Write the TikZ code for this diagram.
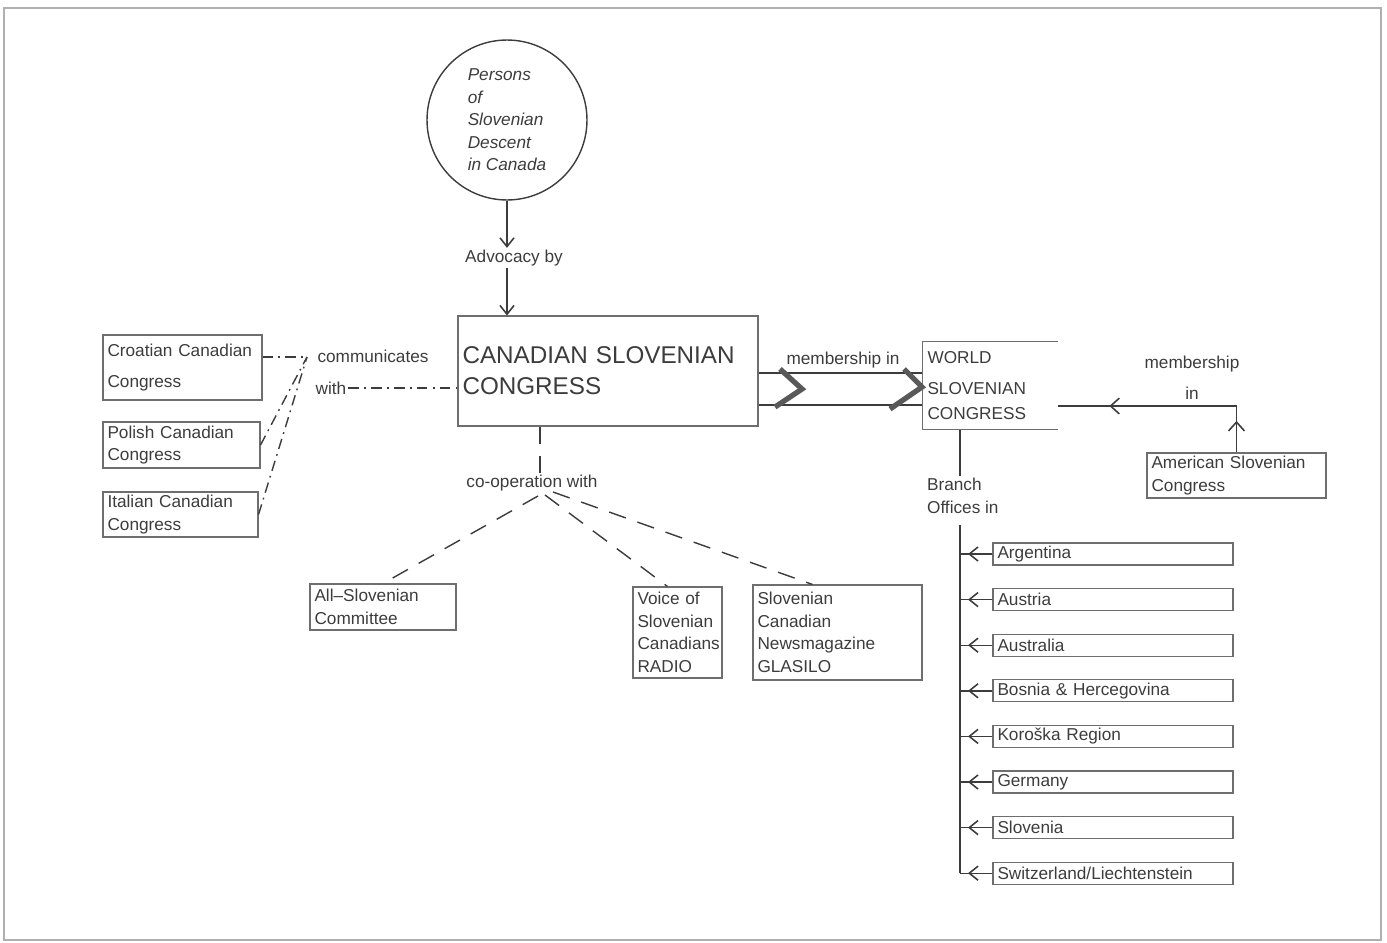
\documentclass[tikz,border=0pt]{standalone}
\usepackage{fontspec}
\setmainfont{Liberation Sans}
\usetikzlibrary{arrows.meta,calc,decorations.markings}
\definecolor{inkgray}{HTML}{3C3C3C}
\definecolor{boxgray}{HTML}{6E6E6E}
\definecolor{framegray}{HTML}{B0B0B0}
\newcommand{\smallfont}{\fontsize{9.8}{12.8}\selectfont}
\newcommand{\bigfont}{\fontsize{13.8}{17.6}\selectfont}
\tikzset{
  orgbox/.style={draw=boxgray, line width=0.6pt, inner sep=0pt, align=left, font=\smallfont, text=inkgray},
  boxsize/.style 2 args={/utils/exec={%
      \pgfmathsetlengthmacro\boxw{#1*0.02cm}%
      \pgfmathsetlengthmacro\boxh{#2*0.02cm}%
      \pgfmathsetlengthmacro\boxtw{(#1-9)*0.02cm}},
    minimum width=\boxw, minimum height=\boxh, text width=\boxtw},
  lbl/.style={font=\smallfont, text=inkgray, inner sep=1pt},
  link/.style={draw=inkgray, line width=0.8pt},
  barb/.style={link, -{Straight Barb[length=5pt,width=8pt,line width=0.9pt]}},
  dashlink/.style={link, dash pattern=on 10pt off 7pt},
  dotlink/.style={link, dash pattern=on 6pt off 3pt on 1pt off 3pt},
  chevron/.style={draw=black!65, line width=3pt},
}
\begin{document}
\begin{tikzpicture}[x=0.02cm, y=-0.02cm]
  \useasboundingbox (0,0) rectangle (1387,943);
  \draw[framegray, line width=0.6pt] (4,8) rectangle (1381,940);

  % Source circle
  \node[circle, draw=inkgray, line width=0.8pt, minimum size=3.2cm, inner sep=0pt,
        align=left, font=\smallfont\itshape, text=inkgray] (desc) at (507,120)
       {Persons\\of\\Slovenian\\Descent\\in Canada};
  \node[lbl] (adv) at (514,258) {Advocacy by};

  % Central box
  \node[orgbox, boxsize={300}{110}, font=\bigfont] (csc) at (608,371)
       {CANADIAN SLOVENIAN\\CONGRESS};
  \draw[barb] (desc.south) -- (desc.south |- adv.north);
  \draw[barb] (desc.south |- adv.south) -- (desc.south |- csc.north);

  % World congress
  \node[orgbox, draw=none, boxsize={134}{87}] (wsc) at (990,385.5)
       {WORLD\\[5.3pt]SLOVENIAN\\[1.4pt]CONGRESS};
  \draw[boxgray, line width=0.6pt] (wsc.north east) -- (wsc.north west)
       -- (wsc.south west) -- (wsc.south east);
  \coordinate (memtop) at (840,373);
  \coordinate (membot) at (840,405);
  \draw[link] (csc.east |- memtop) -- (wsc.west |- memtop);
  \draw[link] (csc.east |- membot) -- (wsc.west |- membot);
  \draw[chevron] (780,369) -- (802,389) -- (775,407);
  \draw[chevron] (904,369) -- (922,387) -- (890,409);
  \node[lbl] (memlbl) at (843,360) {membership in};

  % American congress
  \node[orgbox, boxsize={179}{45}] (asc) at (1236.5,475.5)
       {American Slovenian\\Congress};
  \coordinate (memline) at (1150,406);
  \draw[link, postaction={decorate}, decoration={markings,
        mark=at position 0.14 with {\arrow{Straight Barb[length=5pt,width=9pt,line width=0.9pt]}},
        mark=at position 0.77 with {\arrow{Straight Barb[length=5pt,width=9pt,line width=0.9pt]}}}]
       (asc.north) -- (asc.north |- memline) -- (wsc.east |- memline);
  \node[lbl, align=center] (memlbl2) at (1192,378) {membership\\[5pt]in};

  % Canadian congresses
  \node[orgbox, boxsize={159}{65}] (cro) at (182.5,367.5) {Croatian Canadian\\[5.3pt]Congress};
  \node[orgbox, boxsize={157}{46}] (pol) at (181.5,445) {Polish Canadian\\Congress};
  \node[orgbox, boxsize={155}{45}] (ita) at (180.5,514.5) {Italian Canadian\\Congress};
  \node[lbl] (comm) at (373,356) {communicates};
  \node[lbl] (with) at (331,388) {with};
  \coordinate (hook) at (307,357);
  \draw[dotlink] (cro.east |- hook) -- (hook);
  \draw[dotlink] (pol.east) -- (hook);
  \draw[dotlink] (ita.east) -- (hook);
  \draw[dotlink] (with.east) -- (csc.west |- with.east);

  % Co-operation
  \node[lbl] (coop) at (532,483) {co-operation with};
  \coordinate (coline) at (540,450);
  \coordinate (cohub) at (545,495);
  \draw[dashlink] (csc.south -| coline) -- (coop.north -| coline);
  \node[orgbox, boxsize={146}{46}] (allc) at (383,607) {All--Slovenian\\Committee};
  \node[orgbox, boxsize={89}{91}] (voice) at (677.5,632.5)
       {Voice of\\Slovenian\\Canadians\\RADIO};
  \node[orgbox, boxsize={169}{95}] (glas) at (837.5,632.5)
       {Slovenian\\Canadian\\Newsmagazine\\GLASILO};
  \draw[dashlink] ($(cohub)+(-7,1)$) -- (allc.north);
  \draw[dashlink] (cohub) -- ($(voice.north)+(-10,0)$);
  \draw[dashlink] ($(cohub)+(8,-3)$) -- ($(glas.north)+(-25,0)$);

  % Branch offices
  \node[lbl, align=left, anchor=west] (branch) at (925,496) {Branch\\Offices in};
  \coordinate (trunk) at (960,525);
  \draw[link] (wsc.south -| trunk) -- (branch.north -| trunk);
  \foreach \name/\txt [count=\i] in {arg/Argentina, aut/Austria, aus/Australia,
      bih/Bosnia \& Hercegovina, kor/Koroška Region, ger/Germany, slo/Slovenia,
      swi/{Switzerland/Liechtenstein}} {
    \node[orgbox, boxsize={240}{22}] (\name) at (1113,{554+45.6*(\i-1)}) {\txt};
    \draw[link] (\name.west) -- (trunk |- \name.west);
    \draw[barb] (\name.west) -- ($(trunk |- \name.west)+(8,0)$);
  }
  \draw[link] (trunk) -- (trunk |- swi.west);
\end{tikzpicture}
\end{document}
